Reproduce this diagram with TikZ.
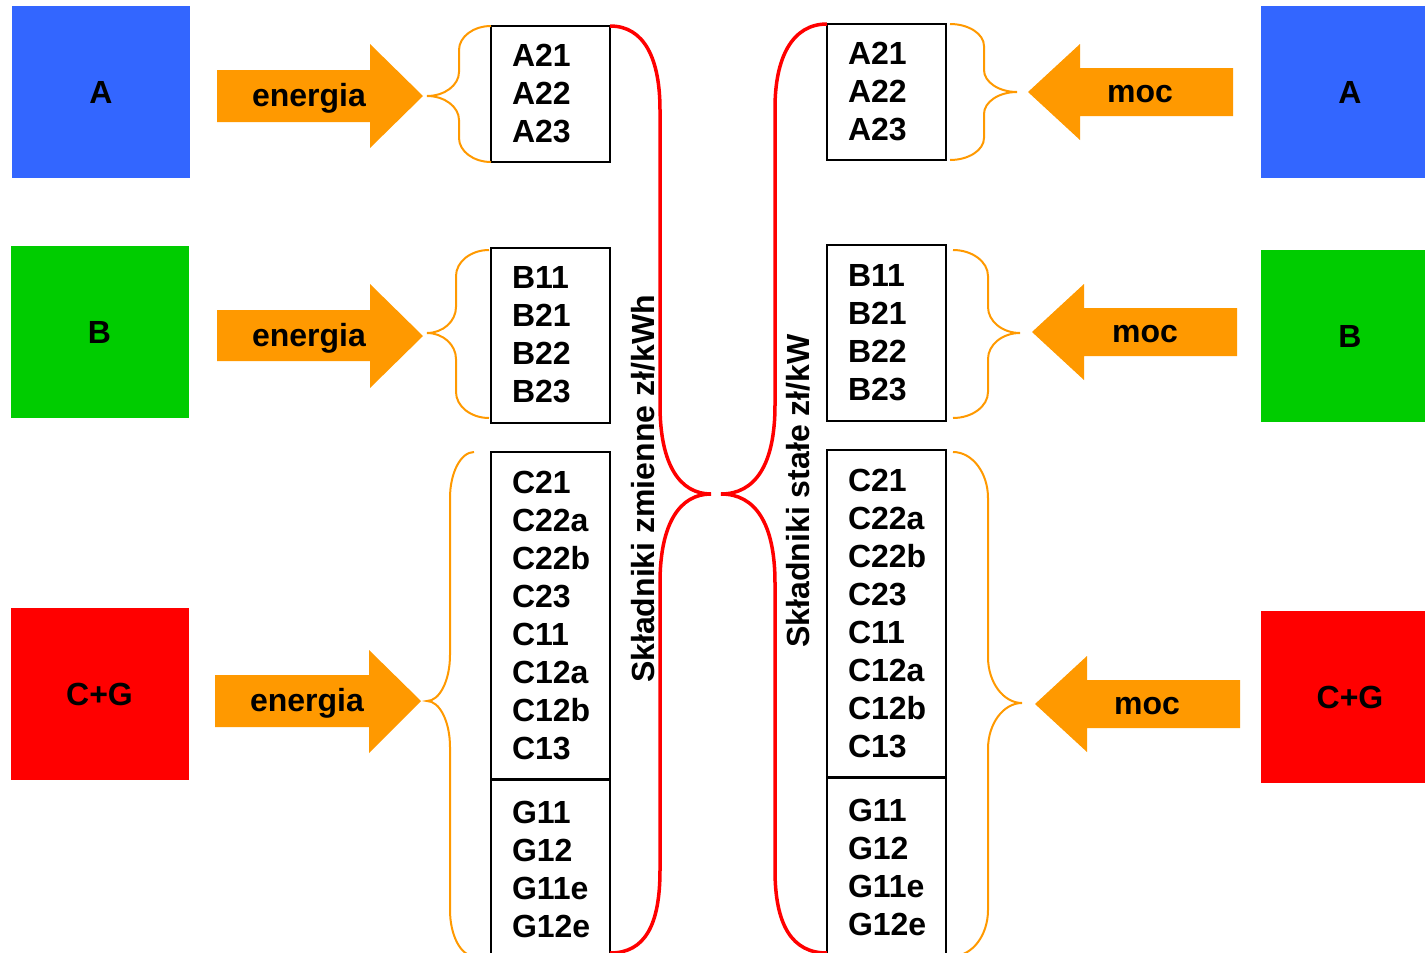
\documentclass[tikz,border=0pt]{standalone}
\usepackage{fontspec}
\setmainfont{Liberation Sans}
\definecolor{cblue}{HTML}{3366FF}
\definecolor{cgreen}{HTML}{00CC00}
\definecolor{cred}{HTML}{FF0000}
\definecolor{corange}{HTML}{FF9900}
\newcommand\mybrace[7]{% xb, xe, xt, yt, ym, yb, r
  \draw[ob] (#1,#4) .. controls ({#1+0.55*(#2-#1)},#4) and (#2,{#4+0.45*#7}) .. (#2,#4+#7) -- (#2,#5-#7)
    .. controls (#2,{#5-0.45*#7}) and ({#2+0.45*(#3-#2)},#5) .. (#3,#5)
    .. controls ({#2+0.45*(#3-#2)},#5) and (#2,{#5+0.45*#7}) .. (#2,#5+#7)
    -- (#2,#6-#7) .. controls (#2,{#6-0.45*#7}) and ({#1+0.55*(#2-#1)},#6) .. (#1,#6);}
\begin{document}
\begin{tikzpicture}[x=0.5pt,y=-0.5pt,
  txt/.style={font=\fontsize{16}{19}\selectfont\bfseries},
  sq/.style={txt,minimum width=89pt,minimum height=86pt,inner sep=0pt},
  listbox/.style={txt,draw=black,line width=1pt,minimum width=59.5pt,inner xsep=10.5pt,inner ysep=0pt,text width=38.5pt,align=left},
  ob/.style={draw=corange,line width=1pt},
  rb/.style={draw=cred,line width=1.75pt},
  arr/.style={fill=corange},
  lbl/.style={txt,inner sep=0pt}]
\clip (0,0) rectangle (1425,953);
% colour squares
\node[sq,fill=cblue]  (sqAL) at (101,92)   {A};
\node[sq,fill=cgreen] (sqBL) at (99.5,332) {B};
\node[sq,fill=cred]   (sqCL) at (99.5,694) {C+G};
\node[sq,fill=cblue]  (sqAR) at (1350,92)  {A};
\node[sq,fill=cgreen] (sqBR) at (1350,336) {B};
\node[sq,fill=cred]   (sqCR) at (1350,697) {C+G};
% arrows left
\fill[arr] (217,70) -- (370,70) -- (370,44) -- (423,96) -- (370,148) -- (370,122) -- (217,122) -- cycle;
\node[lbl] (eA) at (309,98) {energia};
\fill[arr] (217,310) -- (370,310) -- (370,284) -- (423,336) -- (370,388) -- (370,361) -- (217,361) -- cycle;
\node[lbl] (eB) at (309,338) {energia};
\fill[arr] (215,675) -- (369,675) -- (369,650) -- (421,701) -- (369,753) -- (369,727) -- (215,727) -- cycle;
\node[lbl] (eC) at (307,703) {energia};
% arrows right
\fill[arr] (1233,68) -- (1080,68) -- (1080,44) -- (1028,92) -- (1080,140) -- (1080,116) -- (1233,116) -- cycle;
\node[lbl] (mA) at (1140,94) {moc};
\fill[arr] (1237,308) -- (1084,308) -- (1084,284) -- (1032,332) -- (1084,380) -- (1084,356) -- (1237,356) -- cycle;
\node[lbl] (mB) at (1145,334) {moc};
\fill[arr] (1240,680) -- (1087,680) -- (1087,656) -- (1035,704) -- (1087,752) -- (1087,728) -- (1240,728) -- cycle;
\node[lbl] (mC) at (1147,706) {moc};
% list boxes left
\node[listbox,minimum height=68pt] (bAL) at (550.5,94) {A21\\A22\\A23};
\node[listbox,minimum height=87.5pt] (bBL) at (550.5,335) {B11\\B21\\B22\\B23};
\node[listbox,minimum height=164pt] (bCL) at (550.5,616) {C21\\C22a\\C22b\\C23\\C11\\C12a\\C12b\\C13};
\node[listbox,minimum height=90pt] (bGL) at (550.5,869) {G11\\G12\\G11e\\G12e};
% list boxes right
\node[listbox,minimum height=68pt] (bAR) at (886.5,92) {A21\\A22\\A23};
\node[listbox,minimum height=88pt] (bBR) at (886.5,333) {B11\\B21\\B22\\B23};
\node[listbox,minimum height=164pt] (bCR) at (886.5,614) {C21\\C22a\\C22b\\C23\\C11\\C12a\\C12b\\C13};
\node[listbox,minimum height=90pt] (bGR) at (886.5,867) {G11\\G12\\G11e\\G12e};
% orange braces
\mybrace{491}{459}{427}{26}{96}{162}{24}
\mybrace{489}{456}{427}{250}{333}{418}{26}
\mybrace{474}{450}{427}{452}{701}{956}{46}
\mybrace{950}{984}{1017}{24}{92}{160}{22}
\mybrace{953}{988}{1020}{250}{333}{418}{26}
\mybrace{953}{988}{1022}{452}{703}{956}{46}
% red braces
\draw[rb] (610,26) .. controls (645,26) and (660,60) .. (660,110) -- (660,405)
  .. controls (660,465) and (680,494) .. (711,494)
  .. controls (680,494) and (660,523) .. (660,583) -- (660,870)
  .. controls (660,925) and (645,953) .. (610,953);
\draw[rb] (827,24) .. controls (792,24) and (775,58) .. (775,108) -- (775,405)
  .. controls (775,465) and (755,494) .. (721,494)
  .. controls (755,494) and (775,523) .. (775,583) -- (775,870)
  .. controls (775,925) and (792,953) .. (827,953);
% rotated labels
\node[lbl,rotate=90] (lz) at (643,489) {Składniki zmienne zł/kWh};
\node[lbl,rotate=90] (ls) at (798,491) {Składniki stałe zł/kW};
\end{tikzpicture}
\end{document}
